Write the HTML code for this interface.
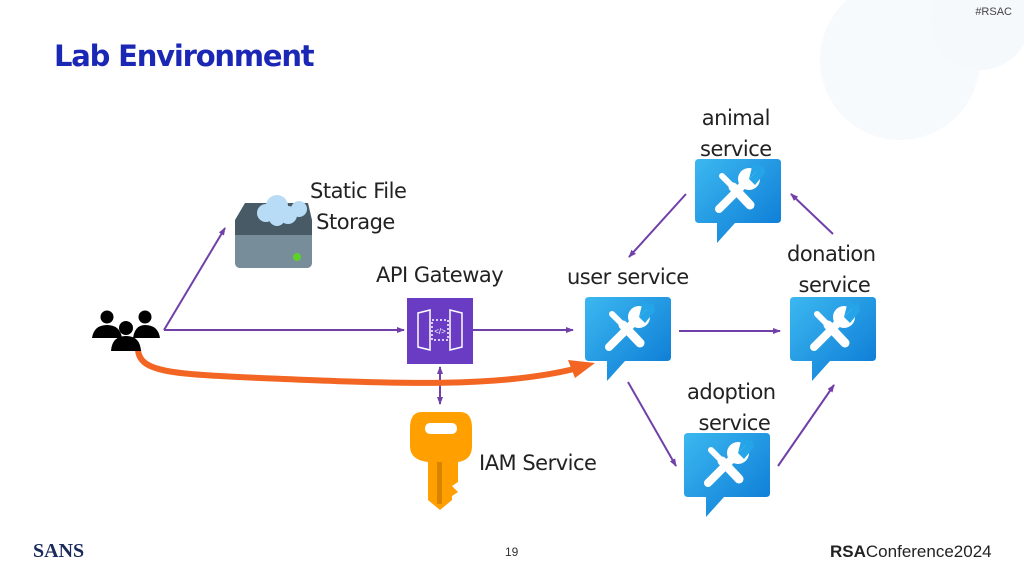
<!DOCTYPE html>
<html><head><meta charset="utf-8"><style>
body{margin:0;width:1024px;height:576px;overflow:hidden;background:#fff;font-family:"Liberation Sans",sans-serif;position:relative}
.t{position:absolute;color:#222;font-size:21px;font-family:"DejaVu Sans","Liberation Sans",sans-serif;letter-spacing:-0.5px;line-height:31px}
</style></head><body>
<svg width="1024" height="576" style="position:absolute;left:0;top:0">
<defs>
<linearGradient id="b" x1="0" y1="0" x2="1" y2="1"><stop offset="0" stop-color="#3cb8f0"/><stop offset="1" stop-color="#0a78d4"/></linearGradient>
<marker id="a" markerWidth="8" markerHeight="8" refX="7" refY="4" orient="auto" markerUnits="userSpaceOnUse"><path d="M0,1 L8,4 L0,7z" fill="#7040a8"/></marker>
<marker id="as" markerWidth="8" markerHeight="8" refX="1" refY="4" orient="auto" markerUnits="userSpaceOnUse"><path d="M8,1 L0,4 L8,7z" fill="#7040a8"/></marker>
<symbol id="svc" viewBox="0 0 86 84"><path d="M4,0 H82 Q86,0 86,4 V60 Q86,64 82,64 H40 L22,84 V64 H4 Q0,64 0,60 V4 Q0,0 4,0z" fill="url(#b)"/>
<g stroke="#fff" stroke-linecap="round" fill="none"><path d="M27,17 L36,26" stroke-width="6"/><path d="M38,28 L55,46" stroke-width="9"/><path d="M24,50 L48,26" stroke-width="8"/></g>
<circle cx="54" cy="20" r="11" fill="#fff"/><path d="M54,20 L68,6 L70,14 L60,26z" fill="#26a4e8"/><path d="M54,20 L66,8 L58,4z" fill="#26a4e8"/></symbol>
</defs>
<circle cx="900" cy="60" r="80" fill="#f6fafd"/><circle cx="980" cy="20" r="50" fill="#f5f9fc"/>
<g stroke="#7040a8" stroke-width="2" fill="none">
<path d="M164,330 L225,228" marker-end="url(#a)"/>
<path d="M164,330 L404,330" marker-end="url(#a)"/>
<path d="M473,330 L573,330" marker-end="url(#a)"/>
<path d="M440,367 L440,404" marker-start="url(#as)" marker-end="url(#a)"/>
<path d="M679,331 L780,331" marker-end="url(#a)"/>
<path d="M686,194 L629,257" marker-end="url(#a)"/>
<path d="M833,234 L791,194" marker-end="url(#a)"/>
<path d="M628,382 L676,466" marker-end="url(#a)"/>
<path d="M778,466 L834,385" marker-end="url(#a)"/>
</g>
<path d="M138,350 C140,372 170,374 260,378 C400,384 500,388 578,368" stroke="#f26522" stroke-width="6" fill="none"/>
<path d="M568,360 L595,363 L575,378z" fill="#f26522"/>
<use href="#svc" x="585" y="297" width="86" height="84"/>
<use href="#svc" x="695" y="159" width="86" height="84"/>
<use href="#svc" x="790" y="297" width="86" height="84"/>
<use href="#svc" x="684" y="433" width="86" height="84"/>
<rect x="407" y="298" width="66" height="66" fill="#6a3cc4"/>
<g stroke="#fff" stroke-width="1.5" fill="none"><path d="M418,313 L430,310 V350 L418,347z"/><path d="M462,313 L450,310 V350 L462,347z"/><rect x="432" y="320" width="16" height="20" stroke-dasharray="2,2"/></g>
<text x="440" y="334" fill="#fff" font-size="8" text-anchor="middle">&lt;/&gt;</text>
<path d="M245,203 H308 L312,220 V262 Q312,268 306,268 H241 Q235,268 235,262 V220z" fill="#485a65"/>
<path d="M235,235 H312 V262 Q312,268 306,268 H241 Q235,268 235,262z" fill="#778e9a"/>
<circle cx="297" cy="257" r="4" fill="#5ed02a"/>
<g fill="#b8dcf6"><circle cx="277" cy="206" r="11"/><circle cx="266" cy="213" r="9"/><circle cx="288" cy="215" r="9"/><circle cx="299" cy="209" r="8"/><circle cx="277" cy="218" r="8"/></g>
<g fill="#000"><circle cx="107" cy="317" r="6.5"/><circle cx="145" cy="317" r="6.5"/><path d="M92,338 Q94,325 107,325 Q120,325 122,338z"/><path d="M133,338 Q135,325 145,325 Q158,325 160,338z"/><circle cx="126" cy="328" r="7"/><path d="M111,351 Q112,336 126,336 Q140,336 141,351z"/></g>
<path d="M422,412 H460 Q472,412 472,428 V446 Q472,460 458,462 V482 L452,486 L458,492 L452,496 V500 L440,510 L428,500 V462 Q410,460 410,446 V428 Q410,412 422,412z" fill="#ff9f00"/>
<rect x="425" y="423" width="32" height="11" rx="5" fill="#fff"/>
<rect x="437" y="462" width="5" height="42" fill="#d98400"/>
</svg>
<div style="position:absolute;left:54px;top:39px;color:#1b27b5;font-weight:bold;font-size:29px;font-family:'DejaVu Sans',sans-serif;letter-spacing:-1.2px">Lab Environment</div>
<div style="position:absolute;right:12px;top:6px;font-size:11px;color:#444">#RSAC</div>
<div class="t" style="left:310px;top:176px">Static File<br>&nbsp;Storage</div>
<div class="t" style="left:376px;top:260px">API Gateway</div>
<div class="t" style="left:479px;top:448px">IAM Service</div>
<div class="t" style="left:567px;top:262px">user service</div>
<div class="t" style="left:700px;top:103px;text-align:center">animal<br>service</div>
<div class="t" style="left:787px;top:239px;text-align:center">donation<br>&nbsp;service</div>
<div class="t" style="left:687px;top:377px;text-align:center">adoption<br>&nbsp;service</div>
<div style="position:absolute;left:33px;top:540px;font-family:'Liberation Serif',serif;font-weight:bold;font-size:20px;color:#1a2a5a">SANS</div>
<div style="position:absolute;left:505px;top:545px;font-size:12px;color:#333">19</div>
<div style="position:absolute;left:830px;top:542px;font-size:17px;color:#222"><b>RSA</b>Conference2024</div>
</body></html>
